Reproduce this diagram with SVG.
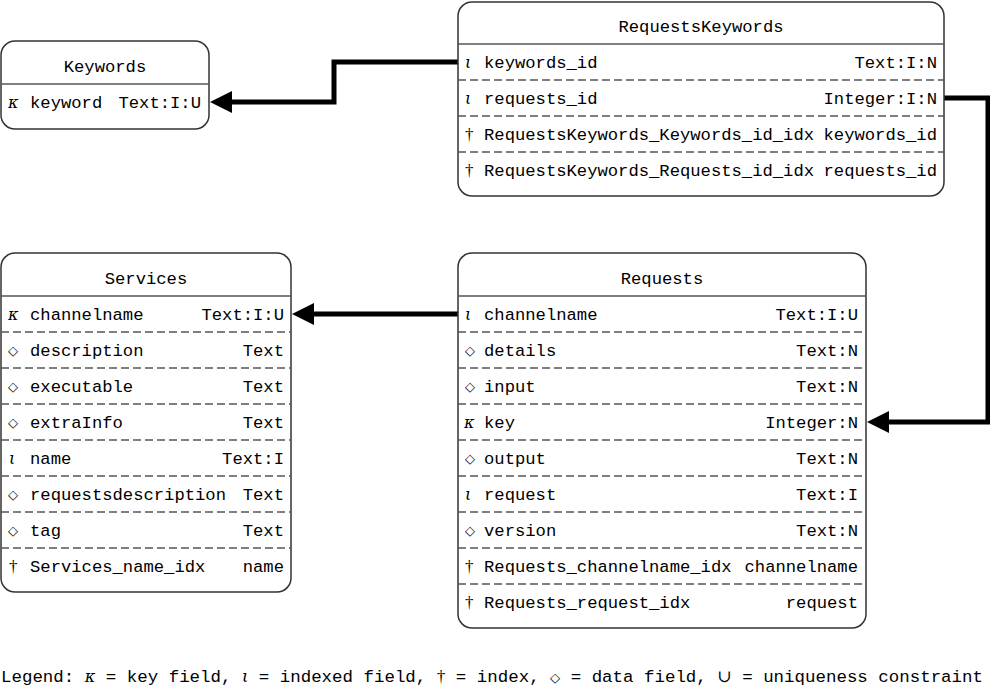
<svg xmlns="http://www.w3.org/2000/svg" width="990" height="688" viewBox="0 0 990 688">
<defs>
<style>
.box{fill:#fff;stroke:#333;stroke-width:1.5}
.hl{stroke:#555;stroke-width:1.5}
.dl{stroke:#555;stroke-width:1.3;stroke-dasharray:8 4}
text{font-family:"Liberation Mono","DejaVu Sans Mono",monospace;font-size:17.2px;fill:#000}
.t{text-anchor:middle}
.r{text-anchor:end}
.s{font-family:"Liberation Serif","DejaVu Serif",serif;font-size:17px;fill:#000}
.d{font-family:"DejaVu Sans","Liberation Sans",sans-serif;font-size:13px;fill:#000}
.si{font-family:"DejaVu Serif","Liberation Serif",serif;font-style:italic;font-size:16px}
.conn{fill:none;stroke:#000;stroke-width:5}
</style>
</defs>

<g id="connectors">
<path class="conn" d="M458,62 H334 V102 H232" />
<path d="M210,102 L232,91 L232,113 Z" fill="#000"/>
<path class="conn" d="M944,98 H988 V422 H889" />
<path d="M867,422 L889,411 L889,433 Z" fill="#000"/>
<path class="conn" d="M458,314 H314" />
<path d="M292,314 L314,303 L314,325 Z" fill="#000"/>
</g>

<g id="Keywords">
<rect class="box" x="1" y="41" width="208" height="88" rx="14"/>
<line class="hl" x1="1" y1="84" x2="209" y2="84"/>
<text class="t" x="105" y="72">Keywords</text>
<text class="si" x="8" y="108">κ</text>
<text x="30" y="108">keyword</text>
<text class="r" x="201" y="108">Text:I:U</text>
</g>

<g id="RequestsKeywords">
<rect class="box" x="458" y="2" width="486" height="194" rx="14"/>
<line class="hl" x1="458" y1="44" x2="944" y2="44"/>
<line class="dl" x1="458" y1="80" x2="944" y2="80"/>
<line class="dl" x1="458" y1="116" x2="944" y2="116"/>
<line class="dl" x1="458" y1="152" x2="944" y2="152"/>
<text class="t" x="701" y="32">RequestsKeywords</text>
<text class="si" x="465" y="68">ι</text>
<text x="484" y="68">keywords_id</text>
<text class="r" x="937" y="68">Text:I:N</text>
<text class="si" x="465" y="104">ι</text>
<text x="484" y="104">requests_id</text>
<text class="r" x="937" y="104">Integer:I:N</text>
<text class="s" x="465" y="140">†</text>
<text x="484" y="140">RequestsKeywords_Keywords_id_idx</text>
<text class="r" x="937" y="140">keywords_id</text>
<text class="s" x="465" y="176">†</text>
<text x="484" y="176">RequestsKeywords_Requests_id_idx</text>
<text class="r" x="937" y="176">requests_id</text>
</g>

<g id="Services">
<rect class="box" x="1" y="253" width="290" height="339" rx="14"/>
<line class="hl" x1="1" y1="296" x2="291" y2="296"/>
<line class="dl" x1="1" y1="332" x2="291" y2="332"/>
<line class="dl" x1="1" y1="368" x2="291" y2="368"/>
<line class="dl" x1="1" y1="404" x2="291" y2="404"/>
<line class="dl" x1="1" y1="440" x2="291" y2="440"/>
<line class="dl" x1="1" y1="476" x2="291" y2="476"/>
<line class="dl" x1="1" y1="512" x2="291" y2="512"/>
<line class="dl" x1="1" y1="548" x2="291" y2="548"/>
<text class="t" x="146" y="284">Services</text>
<text class="si" x="8" y="320">κ</text>
<text x="30" y="320">channelname</text>
<text class="r" x="284" y="320">Text:I:U</text>
<text class="d" x="8" y="355">◇</text>
<text x="30" y="356">description</text>
<text class="r" x="284" y="356">Text</text>
<text class="d" x="8" y="391">◇</text>
<text x="30" y="392">executable</text>
<text class="r" x="284" y="392">Text</text>
<text class="d" x="8" y="427">◇</text>
<text x="30" y="428">extraInfo</text>
<text class="r" x="284" y="428">Text</text>
<text class="si" x="9" y="464">ι</text>
<text x="30" y="464">name</text>
<text class="r" x="284" y="464">Text:I</text>
<text class="d" x="8" y="499">◇</text>
<text x="30" y="500">requestsdescription</text>
<text class="r" x="284" y="500">Text</text>
<text class="d" x="8" y="535">◇</text>
<text x="30" y="536">tag</text>
<text class="r" x="284" y="536">Text</text>
<text class="s" x="9" y="572">†</text>
<text x="30" y="572">Services_name_idx</text>
<text class="r" x="284" y="572">name</text>
</g>

<g id="Requests">
<rect class="box" x="458" y="253" width="408" height="375" rx="14"/>
<line class="hl" x1="458" y1="296" x2="866" y2="296"/>
<line class="dl" x1="458" y1="332" x2="866" y2="332"/>
<line class="dl" x1="458" y1="368" x2="866" y2="368"/>
<line class="dl" x1="458" y1="404" x2="866" y2="404"/>
<line class="dl" x1="458" y1="440" x2="866" y2="440"/>
<line class="dl" x1="458" y1="476" x2="866" y2="476"/>
<line class="dl" x1="458" y1="512" x2="866" y2="512"/>
<line class="dl" x1="458" y1="548" x2="866" y2="548"/>
<line class="dl" x1="458" y1="584" x2="866" y2="584"/>
<text class="t" x="662" y="284">Requests</text>
<text class="si" x="465" y="320">ι</text>
<text x="484" y="320">channelname</text>
<text class="r" x="858" y="320">Text:I:U</text>
<text class="d" x="465" y="355">◇</text>
<text x="484" y="356">details</text>
<text class="r" x="858" y="356">Text:N</text>
<text class="d" x="465" y="391">◇</text>
<text x="484" y="392">input</text>
<text class="r" x="858" y="392">Text:N</text>
<text class="si" x="464" y="428">κ</text>
<text x="484" y="428">key</text>
<text class="r" x="858" y="428">Integer:N</text>
<text class="d" x="465" y="463">◇</text>
<text x="484" y="464">output</text>
<text class="r" x="858" y="464">Text:N</text>
<text class="si" x="465" y="500">ι</text>
<text x="484" y="500">request</text>
<text class="r" x="858" y="500">Text:I</text>
<text class="d" x="465" y="535">◇</text>
<text x="484" y="536">version</text>
<text class="r" x="858" y="536">Text:N</text>
<text class="s" x="465" y="572">†</text>
<text x="484" y="572">Requests_channelname_idx</text>
<text class="r" x="858" y="572">channelname</text>
<text class="s" x="465" y="608">†</text>
<text x="484" y="608">Requests_request_idx</text>
<text class="r" x="858" y="608">request</text>
</g>

<text x="1" y="682" textLength="982" lengthAdjust="spacingAndGlyphs">Legend: <tspan class="si">κ</tspan> = key field, <tspan class="si">ι</tspan> = indexed field, <tspan class="s">†</tspan> = index, <tspan class="d">◇</tspan> = data field, <tspan class="s">∪</tspan> = uniqueness constraint</text>
</svg>
